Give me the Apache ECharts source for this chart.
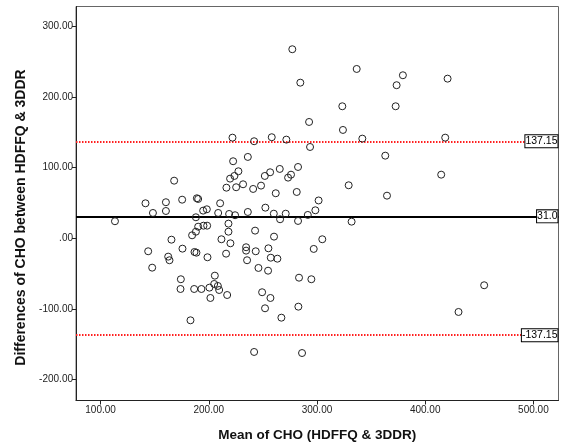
<!DOCTYPE html>
<html>
<head>
<meta charset="utf-8">
<script src="https://cdn.jsdelivr.net/npm/echarts@6/dist/echarts.min.js"></script>
<style>
html,body{margin:0;padding:0;background:#fff;}
#chart{width:561px;height:448px;}
</style>
</head>
<body>
<div id="chart"></div>
<script>
// Mean of CHO (x) and difference (y)
const meanCHO = [
277.2,284.6,292.7,293.6,221.9,241.9,258.2,271.7,236.1,222.5,
227.4,219.7,223.7,216.3,225.3,231.7,241.0,248.3,251.8,256.7,
265.6,261.9,273.3,276.0,282.5,281.3,168.0,141.5,160.4,175.4,
189.0,190.2,148.4,160.4,113.3,188.1,194.8,198.2,210.5,208.7,
218.8,224.3,236.1,252.3,260.1,271.1,265.9,282.5,291.5,298.5,
301.5,190.2,195.1,198.5,188.1,184.6,218.2,218.2,242.8,165.5,
211.7,220.0,260.3,175.7,144.0,186.8,188.6,234.5,234.5,243.4,
255.1,216.0,198.8,162.5,163.7,257.3,263.4,235.4,297.0,147.7,
245.9,254.8,174.2,205.6,173.9,186.5,193.2,200.6,205.0,208.4,
209.6,217.0,201.5,283.4,294.8,249.3,257.0,252.0,282.8,267.1,
183.1,241.9,286.2,336.7,379.4,373.6,420.7,323.4,372.7,324.0,
341.9,418.5,363.1,414.8,329.3,364.7,332.0,304.9,454.5,430.8
];
const diffCHO = [
267.5,220.2,164.6,129.2,142.4,137.3,143.0,139.6,115.1,109.0,
94.8,84.4,88.2,71.6,72.2,76.4,69.8,74.5,88.2,93.4,
98.1,63.7,85.8,90.0,100.9,65.5,81.5,49.5,51.0,54.6,
56.6,55.6,35.8,38.6,24.1,29.7,39.1,41.0,49.5,35.8,
34.4,32.6,37.2,43.3,34.8,34.8,26.9,24.5,33.0,39.6,
53.5,16.4,17.8,17.8,9.3,4.2,20.7,9.3,10.8,-2.0,
-1.4,-7.1,2.3,-14.7,-18.4,-19.4,-20.4,-12.7,-17.5,-18.4,
-14.2,-21.8,-26.9,-26.0,-31.1,-27.5,-28.9,-31.1,-15.1,-41.6,
-42.0,-45.9,-58.0,-52.9,-71.8,-71.8,-71.8,-69.9,-64.7,-67.5,
-73.2,-80.3,-84.5,-55.8,-58.0,-76.4,-84.5,-99.1,-96.8,-112.4,
-116.1,-160.9,-162.4,239.6,230.7,216.6,225.9,186.8,186.8,153.3,
141.0,142.4,116.9,90.0,75.0,60.3,23.5,-1.4,-66.5,-104.3
];
const meanDiff = 31.0;
const upperLoA = 137.15;
const lowerLoA = -137.15;
const meanLabel = '31.0';
const upperLabel = '137.15';
const lowerLabel = '-137.15';
const xTicks = [100, 200, 300, 400, 500];
const yTicks = [-200, -100, 0, 100, 200, 300];
const xTitle = 'Mean of CHO (HDFFQ & 3DDR)';
const yTitle = 'Differences of CHO between HDFFQ & 3DDR';

const points = meanCHO.map((x, i) => [x, diffCHO[i]]);

const chart = echarts.init(document.getElementById('chart'), null, {renderer: 'canvas'});
const fontFam = '"Liberation Sans", Arial, sans-serif';
const boxLabel = (txt) => ({
  show: true,
  formatter: txt,
  position: 'insideEnd',
  distance: 1,
  color: '#000',
  fontFamily: fontFam,
  fontSize: 10.5,
  backgroundColor: '#fff',
  borderColor: '#000',
  borderWidth: 1,
  padding: [1, 0, 0, 0]
});

chart.setOption({
  animation: false,
  backgroundColor: '#fff',
  grid: {left: 76, right: 2.5, top: 6.5, bottom: 47.5, show: true, borderColor: '#666', borderWidth: 1},
  xAxis: {
    type: 'value',
    min: 77.3, max: 523.2,
    name: xTitle,
    nameLocation: 'middle',
    nameGap: 28,
    nameTextStyle: {fontFamily: fontFam, fontSize: 13.5, fontWeight: 'bold', color: '#111'},
    axisLine: {show: true, onZero: false, lineStyle: {color: '#222', width: 1}},
    axisTick: {show: true, length: 4, lineStyle: {color: '#222'}, customValues: xTicks},
    axisLabel: {color: '#222', fontFamily: fontFam, fontSize: 10, margin: 5,
      customValues: xTicks, formatter: v => v.toFixed(2)},
    splitLine: {show: false}
  },
  yAxis: {
    type: 'value',
    min: -229.6, max: 328,
    name: yTitle,
    nameLocation: 'middle',
    nameGap: 47,
    nameTextStyle: {fontFamily: fontFam, fontSize: 14, fontWeight: 'bold', color: '#111', padding: [0, 28, 0, 0]},
    axisLine: {show: true, onZero: false, lineStyle: {color: '#222', width: 1}},
    axisTick: {show: true, length: 4, lineStyle: {color: '#222'}, customValues: yTicks},
    axisLabel: {color: '#222', fontFamily: fontFam, fontSize: 10, margin: 3,
      customValues: yTicks, formatter: v => (v === 0 ? '.00' : v.toFixed(2))},
    splitLine: {show: false}
  },
  series: [{
    type: 'scatter',
    data: points,
    symbol: 'circle',
    symbolSize: 7,
    itemStyle: {color: 'rgba(255,255,255,0)', borderColor: '#222', borderWidth: 1, opacity: 1},
    z: 3,
    markLine: {
      silent: true,
      symbol: 'none',
      z: 2,
      data: [
        {yAxis: upperLoA, lineStyle: {color: '#ff2020', width: 2, type: [1.5, 1.5]}, label: boxLabel(upperLabel)},
        {yAxis: meanDiff, lineStyle: {color: '#000', width: 2, type: 'solid'}, label: boxLabel(meanLabel)},
        {yAxis: lowerLoA, lineStyle: {color: '#ff2020', width: 2, type: [1.5, 1.5]}, label: boxLabel(lowerLabel)}
      ]
    }
  }]
});
</script>
</body>
</html>
